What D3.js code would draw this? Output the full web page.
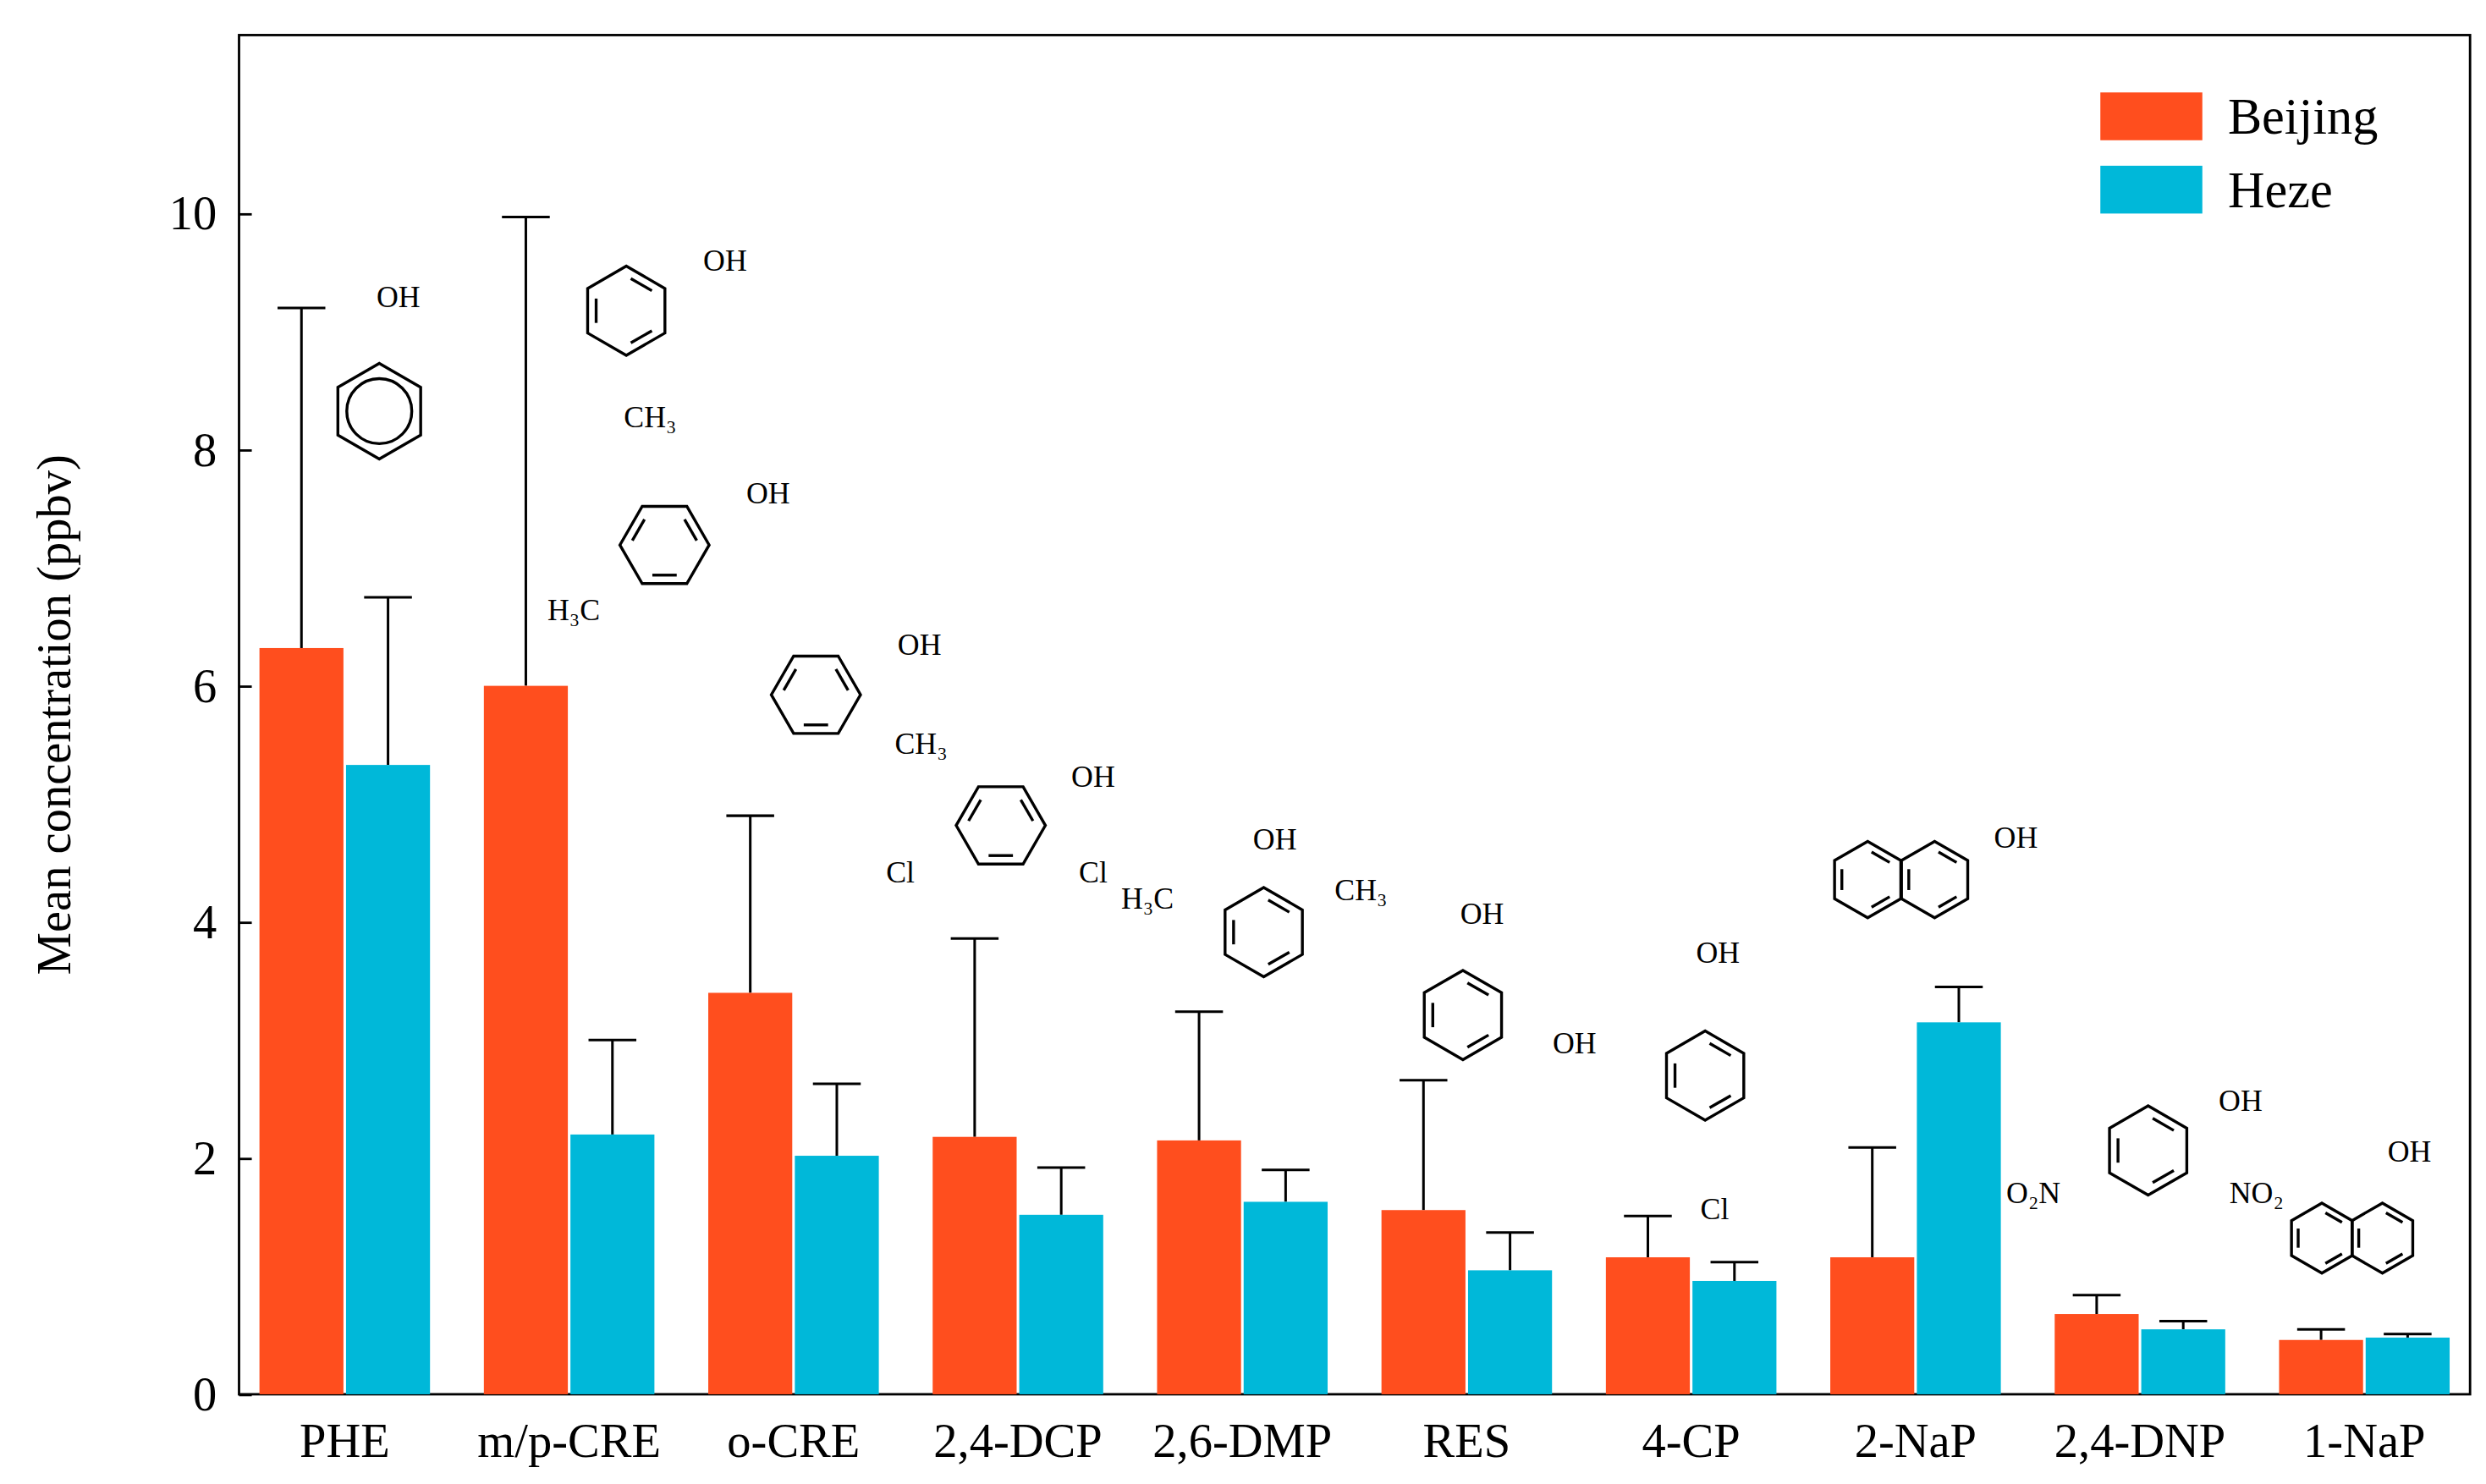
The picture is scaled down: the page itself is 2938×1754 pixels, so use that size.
<!DOCTYPE html>
<html lang="en">
<head>
<meta charset="UTF-8">
<title>Mean concentration of phenols</title>
<style>
  body { margin: 0; background: #fff; }
  svg { display: block; font-family: "Liberation Serif", "DejaVu Serif", serif; }
</style>
</head>
<body>
<div id="chart"></div>
<script src="https://d3js.org/d3.v7.min.js"></script>
<script>
// chart data
const compounds = ['PHE', 'm/p-CRE', 'o-CRE', '2,4-DCP', '2,6-DMP', 'RES', '4-CP', '2-NaP', '2,4-DNP', '1-NaP'];
const seriesNames = ['Beijing', 'Heze'];
const beijingMean = [6.32, 6.0, 3.4, 2.18, 2.15, 1.56, 1.16, 1.16, 0.68, 0.46];
const beijingErr  = [2.88, 3.97, 1.5, 1.68, 1.09, 1.1, 0.35, 0.93, 0.16, 0.09];
const hezeMean    = [5.33, 2.2, 2.02, 1.52, 1.63, 1.05, 0.96, 3.15, 0.55, 0.48];
const hezeErr     = [1.42, 0.8, 0.61, 0.4, 0.27, 0.32, 0.16, 0.3, 0.07, 0.03];
const yTicks = [0, 2, 4, 6, 8, 10];
const colors = ['#FF4E1E', '#00B8D9'];

const W = 1560, H = 931.3;
const svg = d3.select('#chart').append('svg')
  .attr('width', 2938).attr('height', 1754)
  .attr('viewBox', `0 0 ${W} ${H}`);

const m = { left: 150, right: 1550, top: 22, bottom: 875 };

const x = d3.scaleBand().domain(compounds).range([m.left + 10, m.right - 10]).paddingInner(0.24).paddingOuter(0.02);
const xs = d3.scaleBand().domain(seriesNames).range([0, x.bandwidth()]).paddingInner(0.03);
const y = d3.scaleLinear().domain([0, 10]).range([m.bottom, 134]);

// frame
svg.append('rect').attr('x', m.left).attr('y', m.top)
  .attr('width', m.right - m.left).attr('height', m.bottom - m.top)
  .attr('fill', 'none').attr('stroke', '#000').attr('stroke-width', 1.5);

// y axis
const yAxis = svg.append('g').attr('transform', `translate(${m.left},0)`)
  .call(d3.axisLeft(y).tickValues(yTicks).tickSize(-8).tickPadding(14));
yAxis.select('.domain').remove();
yAxis.selectAll('text').attr('font-size', 30).attr('font-family', 'Liberation Serif');
yAxis.selectAll('line').attr('stroke-width', 1.5);

// x axis labels
const xAxis = svg.append('g').attr('transform', `translate(0,${m.bottom})`)
  .call(d3.axisBottom(x).tickSize(0).tickPadding(18));
xAxis.select('.domain').remove();
xAxis.selectAll('text').attr('font-size', 30).attr('font-family', 'Liberation Serif');

svg.append('text')
  .attr('transform', `translate(44,${(m.top + m.bottom) / 2}) rotate(-90)`)
  .attr('text-anchor', 'middle').attr('font-size', 30)
  .text('Mean concentration (ppbv)');

// bars and error bars
const series = [
  { name: 'Beijing', mean: beijingMean, err: beijingErr },
  { name: 'Heze', mean: hezeMean, err: hezeErr }
];
series.forEach((s, si) => {
  const g = svg.append('g');
  compounds.forEach((c, i) => {
    const bx = x(c) + xs(s.name), bw = xs.bandwidth();
    const cx = bx + bw / 2;
    const top = y(s.mean[i] + s.err[i]);
    g.append('line').attr('x1', cx).attr('x2', cx).attr('y1', y(s.mean[i])).attr('y2', top)
      .attr('stroke', '#000').attr('stroke-width', 1.6);
    g.append('line').attr('x1', cx - 15).attr('x2', cx + 15).attr('y1', top).attr('y2', top)
      .attr('stroke', '#000').attr('stroke-width', 1.6);
    g.append('rect').attr('x', bx).attr('y', y(s.mean[i]))
      .attr('width', bw).attr('height', y(0) - y(s.mean[i]))
      .attr('fill', colors[si]);
  });
});

// legend
seriesNames.forEach((n, i) => {
  svg.append('rect').attr('x', 1318).attr('y', 58 + i * 46).attr('width', 64).attr('height', 30).attr('fill', colors[i]);
  svg.append('text').attr('x', 1398).attr('y', 84 + i * 46).attr('font-size', 32).text(n);
});

// structure sketches (decorative)
const rings = [
  [238, 258, 30, 0, true], [393, 195, 28, 0], [417, 342, 28, 30], [512, 436, 28, 30],
  [628, 518, 28, 30], [793, 585, 28, 0], [918, 637, 28, 0], [1070, 675, 28, 0],
  [1172, 552, 24, 0], [1214, 552, 24, 0], [1348, 722, 28, 0], [1457, 777, 22, 0], [1495, 777, 22, 0]
];
const labels = [
  [250, 193, 'OH'], [455, 170, 'OH'], [408, 268, 'CH₃'], [360, 389, 'H₃C'], [482, 316, 'OH'],
  [577, 411, 'OH'], [578, 473, 'CH₃'], [686, 494, 'OH'], [565, 554, 'Cl'], [686, 554, 'Cl'],
  [800, 533, 'OH'], [720, 570, 'H₃C'], [854, 565, 'CH₃'], [930, 580, 'OH'], [988, 661, 'OH'],
  [1078, 604, 'OH'], [1076, 765, 'Cl'], [1265, 532, 'OH'], [1406, 697, 'OH'],
  [1276, 755, 'O₂N'], [1416, 755, 'NO₂'], [1512, 729, 'OH']
];
const dg = svg.append('g').attr('fill', 'none').attr('stroke', '#000').attr('stroke-width', 1.8);
rings.forEach(([cx, cy, r, rot, circ]) => {
  const pts = d3.range(6).map(k => {
    const a = (Math.PI / 3) * k + (rot - 90) * Math.PI / 180;
    return [cx + r * Math.cos(a), cy + r * Math.sin(a)];
  });
  dg.append('path').attr('d', d3.line()(pts) + 'Z');
  if (circ) {
    dg.append('circle').attr('cx', cx).attr('cy', cy).attr('r', r * 0.68);
  } else {
    [0, 2, 4].forEach(k => {
      const p = pts[k], q = pts[(k + 1) % 6];
      const f = 0.78, t = 0.15;
      const a = [cx + (p[0] - cx) * f, cy + (p[1] - cy) * f], b = [cx + (q[0] - cx) * f, cy + (q[1] - cy) * f];
      dg.append('line')
        .attr('x1', a[0] + (b[0] - a[0]) * t).attr('y1', a[1] + (b[1] - a[1]) * t)
        .attr('x2', b[0] - (b[0] - a[0]) * t).attr('y2', b[1] - (b[1] - a[1]) * t);
    });
  }
});
svg.append('g').selectAll('text').data(labels).join('text')
  .attr('x', d => d[0]).attr('y', d => d[1]).attr('text-anchor', 'middle')
  .attr('font-size', 19).text(d => d[2]);
</script>
</body>
</html>
